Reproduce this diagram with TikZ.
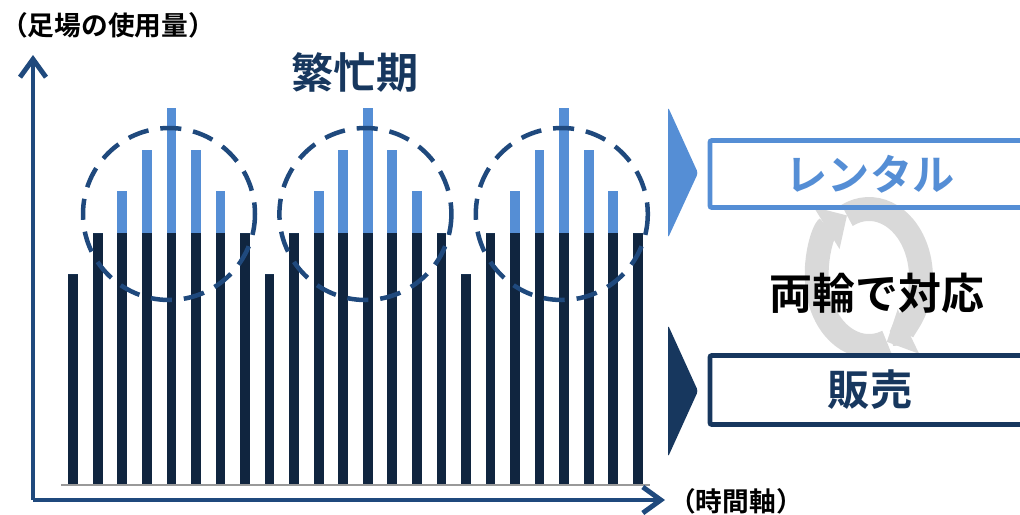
\documentclass[tikz,border=0pt]{standalone}
\usepackage{fontspec}
\setmainfont{Noto Sans CJK JP}[BoldFont={Noto Sans CJK JP Bold}]
\usetikzlibrary{arrows.meta}
\definecolor{barnavy}{HTML}{10253F}
\definecolor{barsky}{HTML}{558ED5}
\definecolor{axisblue}{HTML}{1F497D}
\definecolor{boxnavy}{HTML}{17375E}
\definecolor{ringgray}{HTML}{D9D9D9}
\begin{document}
\begin{tikzpicture}[x=0.025cm,y=-0.025cm]
    \tikzset{axis/.style = {draw=axisblue, line width=3.5pt, -{Straight Barb[length=4.5mm,width=6.5mm]}}}
    \tikzset{busy/.style = {draw=axisblue, line width=3.2pt, dash pattern=on 15pt off 8.5pt}}
    \tikzset{modebox/.style = {draw=#1, text=#1, line width=3.5pt, rounded corners=1.5pt,
        minimum width=8cm, font=\bfseries\fontsize{30}{36}\selectfont}}
    \tikzset{ring/.style = {draw=ringgray, line width=17pt, -{Triangle[length=6mm,width=12mm]}}}
    \useasboundingbox (0,0) rectangle (1020,514);
    \clip (0,0) rectangle (1020,514);
    % bars, three busy periods
    \foreach \g in {0,1,2}
      \foreach \i/\dk/\lt in {0/274/274, 1/233/233, 2/233/191, 3/233/150, 4/233/108, 5/233/150, 6/233/191, 7/233/233} {
        \fill[barnavy] ({68.3+196.4*\g+24.55*\i},485) rectangle ++(9.7,{\dk-485});
        \fill[barsky] ({68.3+196.4*\g+24.55*\i},\dk) rectangle ++(9.7,{\lt-\dk});
      }
    % base line and axes
    \coordinate (b0) at (61,485);
    \coordinate (b1) at (650,485);
    \draw[gray!80, line width=1.5pt] (b0) -- (b1);
    \coordinate (o) at (33,500);
    \coordinate (ytip) at (33,55);
    \coordinate (xtip) at (665,500);
    \draw[axis] (o) -- (ytip);
    \draw[axis] (o) -- (xtip);
    \node[font=\bfseries\fontsize{19}{22}\selectfont] (ylab) at (108,25) {（足場の使用量）};
    \node[font=\bfseries\fontsize{19}{22}\selectfont] (xlab) at (736,501) {（時間軸）};
    % busy periods
    \foreach \g in {0,1,2}
      \draw[busy] ({169+196.4*\g},214) circle[radius=86];
    \node[text=boxnavy, font=\bfseries\fontsize{30}{36}\selectfont] (busy) at (355,72) {繁忙期};
    % cycle between the boxes
    \draw[ring] (869,277.5) ++(-115:52 and 68.5) arc[start angle=-115, end angle=70, x radius=52, y radius=68.5];
    \draw[ring] (869,277.5) ++(70:52 and 68.5) arc[start angle=70, end angle=245, x radius=52, y radius=68.5];
    % two modes
    \fill[barsky, rounded corners=2pt] (668,107) -- (698,173) -- (668,238) -- cycle;
    \fill[boxnavy, rounded corners=2pt] (668,325) -- (698,391) -- (668,457) -- cycle;
    \node[modebox=barsky, minimum height=1.675cm] (rental) at (870,174) {レンタル};
    \node[modebox=boxnavy, minimum height=1.725cm] (sales) at (870,390) {販売};
    \node[font=\bfseries\fontsize{30.5}{36}\selectfont] (both) at (877,293) {両輪で対応};
\end{tikzpicture}
\end{document}
